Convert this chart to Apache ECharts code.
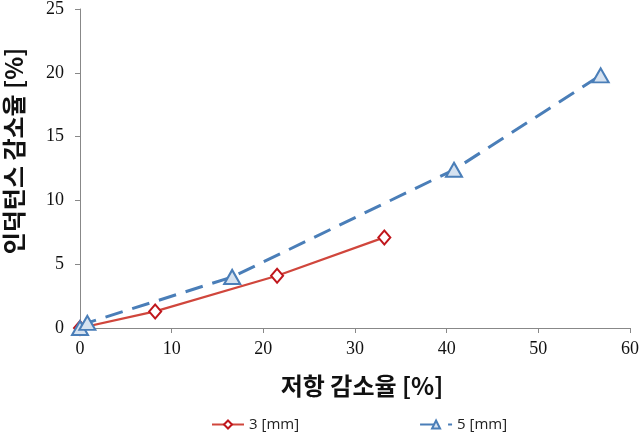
<!DOCTYPE html>
<html><head><meta charset="utf-8">
<script src="https://cdn.jsdelivr.net/npm/echarts@6/dist/echarts.min.js"></script>
<style>html,body{margin:0;padding:0;background:#fff}#c{width:642px;height:432px}</style>
</head><body><div id="c"></div>
<script>
const seriesNames = ['3 [mm]', '5 [mm]'];
const x3 = [0, 8.2, 21.5, 33.2];
const y3 = [0, 1.3, 4.1, 7.1];
const x5 = [0, 0.8, 16.6, 40.8, 56.8];
const y5 = [0, 0.4, 4.0, 12.4, 19.8];
const xTicks = [0, 10, 20, 30, 40, 50, 60];
const yTicks = [0, 5, 10, 15, 20, 25];
const xTitle = '저항 감소율 [%]';
const yTitle = '인덕턴스 감소율 [%]';

const chart = echarts.init(document.getElementById('c'));
const serif = '"Liberation Serif", "Times New Roman", serif';
chart.setOption({
  animation: false,
  grid: { left: 80, right: 12, top: 8, bottom: 104 },
  legend: {
    bottom: 0, left: 211, padding: 0, itemGap: 120, itemWidth: 32, itemHeight: 10,
    textStyle: { fontFamily: '"Open Sans", "Noto Sans", sans-serif', fontSize: 15, color: '#222' },
    data: seriesNames
  },
  graphic: [
    { type: 'text', x: 362, y: 386,
      style: { text: xTitle, font: 'bold 24px "Noto Sans CJK KR", sans-serif', fill: '#111',
               align: 'center', verticalAlign: 'middle' } },
    { type: 'text', rotation: Math.PI / 2, x: 2, y: 151,
      style: { text: yTitle, font: 'bold 24px "Noto Sans CJK KR", sans-serif', fill: '#111',
               align: 'center', verticalAlign: 'top' } }
  ],
  xAxis: {
    type: 'value', min: xTicks[0], max: xTicks[xTicks.length - 1], interval: 10,
    axisLine: { show: true, lineStyle: { color: '#888' } },
    axisTick: { show: true, inside: false, length: 5, lineStyle: { color: '#888' } },
    axisLabel: { fontFamily: serif, fontSize: 18, color: '#111', margin: 12 },
    splitLine: { show: false }
  },
  yAxis: {
    type: 'value', min: yTicks[0], max: yTicks[yTicks.length - 1], interval: 5,
    axisLine: { show: true, lineStyle: { color: '#888' } },
    axisTick: { show: true, inside: false, length: 5, lineStyle: { color: '#888' } },
    axisLabel: { fontFamily: serif, fontSize: 18, color: '#111', margin: 16 },
    splitLine: { show: false }
  },
  series: [
    {
      name: seriesNames[0], type: 'line', data: x3.map((v, i) => [v, y3[i]]),
      symbol: 'diamond', symbolSize: [12, 14], showAllSymbol: true,
      lineStyle: { color: '#d0463c', width: 2.2 },
      itemStyle: { color: '#fff', borderColor: '#c0161c', borderWidth: 2 }
    },
    {
      name: seriesNames[1], type: 'line', data: x5.map((v, i) => [v, y5[i]]),
      symbol: 'triangle', symbolSize: [16, 14], showAllSymbol: true,
      lineStyle: { color: '#4a7eb8', width: 3, type: [18, 10] },
      itemStyle: { color: '#d6e2f0', borderColor: '#4a7eb8', borderWidth: 2 }
    }
  ]
});
</script></body></html>
